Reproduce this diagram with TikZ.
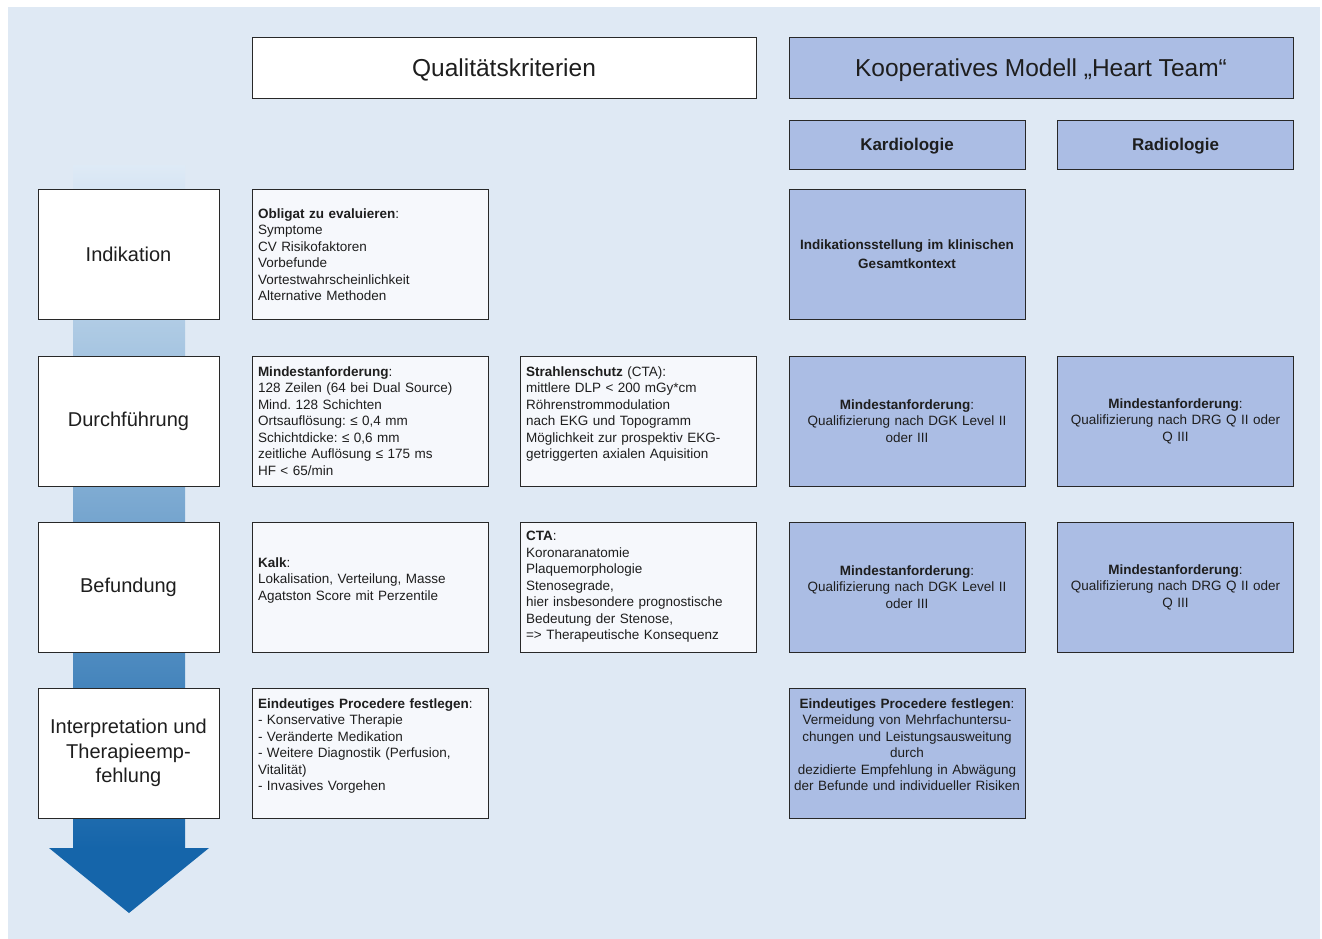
\documentclass[tikz,border=0pt]{standalone}
\usepackage{fontspec}
\setmainfont{Liberation Sans}
\frenchspacing
\definecolor{hintergrund}{RGB}{223,233,244}
\definecolor{teamblau}{RGB}{171,189,228}
\definecolor{kritfarbe}{RGB}{246,248,252}
\definecolor{rahmen}{RGB}{40,40,40}
\definecolor{schrift}{RGB}{30,30,30}
\definecolor{pfeilhell}{RGB}{222,234,246}
\definecolor{pfeildunkel}{RGB}{21,101,170}

\tikzset{
  box/.style={draw=rahmen, line width=1pt, inner sep=0pt, text=schrift},
  kopf/.style={box, minimum width=504pt, minimum height=61pt, text depth=2pt, font=\fontsize{24.5}{29}\selectfont},
  fach/.style={box, fill=teamblau, minimum width=236pt, minimum height=48pt, text depth=1.5pt, font=\fontsize{17}{20}\selectfont\bfseries},
  stufe/.style={box, fill=white, minimum width=181pt, minimum height=130pt, align=center, font=\fontsize{20}{24.5}\selectfont},
  kritbox/.style={box, fill=kritfarbe, minimum width=236pt, minimum height=130pt, text width=224pt, inner xsep=6pt, align=left, font=\fontsize{13.5}{16.5}\selectfont},
  teambox/.style={box, fill=teamblau, minimum width=236pt, minimum height=130pt, text width=230pt, align=center, font=\fontsize{13.5}{16.5}\selectfont}
}

\begin{document}
\begin{tikzpicture}[x=1pt,y=-1pt]
\useasboundingbox (0,0) rectangle (1322,939);
\fill[hintergrund] (8,7) rectangle (1320,939);
% Pfeil
\shade[top color=pfeilhell, bottom color=pfeildunkel] (73,165) rectangle (185,848.5);
\fill[pfeildunkel] (49,848) -- (209,848) -- (129,913) -- cycle;
% Kopfzeile
\node[kopf, fill=white] (quali) at (504,68.5) {Qualitätskriterien};
\node[kopf, fill=teamblau] (team) at (1041,68.5) {Kooperatives Modell „Heart Team“};
\node[fach] (kardio) at (907,145) {Kardiologie};
\node[fach] (radio) at (1175.5,145) {Radiologie};
% Stufen
\node[stufe] (indikation) at (128.5,254.5) {Indikation};
\node[stufe] (durchf) at (128.5,421) {Durchführung};
\node[stufe] (befund) at (128.5,587) {Befundung};
\node[stufe] (interpr) at (128.5,753) {Interpretation und\\Therapieemp-\\fehlung};
% Qualitaetskriterien
\node[kritbox] (ind-krit) at (370,254.5) {\textbf{Obligat zu evaluieren}:\\Symptome\\CV Risikofaktoren\\Vorbefunde\\Vortestwahrscheinlichkeit\\Alternative Methoden};
\node[kritbox] (durch-krit) at (370,421) {\textbf{Mindestanforderung}:\\128 Zeilen (64 bei Dual Source)\\Mind. 128 Schichten\\Ortsauflösung: ≤ 0,4 mm\\Schichtdicke: ≤ 0,6 mm\\zeitliche Auflösung ≤ 175 ms\\HF < 65/min};
\node[kritbox] (durch-strahl) at (638,421) {\textbf{Strahlenschutz} (CTA):\\mittlere DLP < 200 mGy*cm\\Röhrenstrommodulation\\nach EKG und Topogramm\\Möglichkeit zur prospektiv EKG-\\getriggerten axialen Aquisition\\\mbox{}};
\node[kritbox] (bef-kalk) at (370,587) {\textbf{Kalk}:\\Lokalisation, Verteilung, Masse\\Agatston Score mit Perzentile\\\mbox{}};
\node[kritbox] (bef-cta) at (638,587) {\textbf{CTA}:\\Koronaranatomie\\Plaquemorphologie\\Stenosegrade,\\hier insbesondere prognostische\\Bedeutung der Stenose,\\=> Therapeutische Konsequenz};
\node[kritbox] (int-krit) at (370,753) {\textbf{Eindeutiges Procedere festlegen}:\\- Konservative Therapie\\- Veränderte Medikation\\- Weitere Diagnostik (Perfusion,\\Vitalität)\\- Invasives Vorgehen\\\mbox{}};
% Heart Team
\node[teambox, font=\fontsize{13.5}{19}\selectfont\bfseries] (ind-kardio) at (907,254.5) {Indikationsstellung im klinischen\\Gesamtkontext};
\node[teambox] (durch-kardio) at (907,421) {\textbf{Mindestanforderung}:\\Qualifizierung nach DGK Level II\\oder III};
\node[teambox] (durch-radio) at (1175.5,421) {\textbf{Mindestanforderung}:\\Qualifizierung nach DRG Q II oder\\Q III};
\node[teambox] (bef-kardio) at (907,587) {\textbf{Mindestanforderung}:\\Qualifizierung nach DGK Level II\\oder III};
\node[teambox] (bef-radio) at (1175.5,587) {\textbf{Mindestanforderung}:\\Qualifizierung nach DRG Q II oder\\Q III};
\node[teambox] (int-kardio) at (907,753) {\textbf{Eindeutiges Procedere festlegen}:\\Vermeidung von Mehrfachuntersu-\\chungen und Leistungsausweitung\\durch\\dezidierte Empfehlung in Abwägung\\der Befunde und individueller Risiken\\\mbox{}};
\end{tikzpicture}
\end{document}
